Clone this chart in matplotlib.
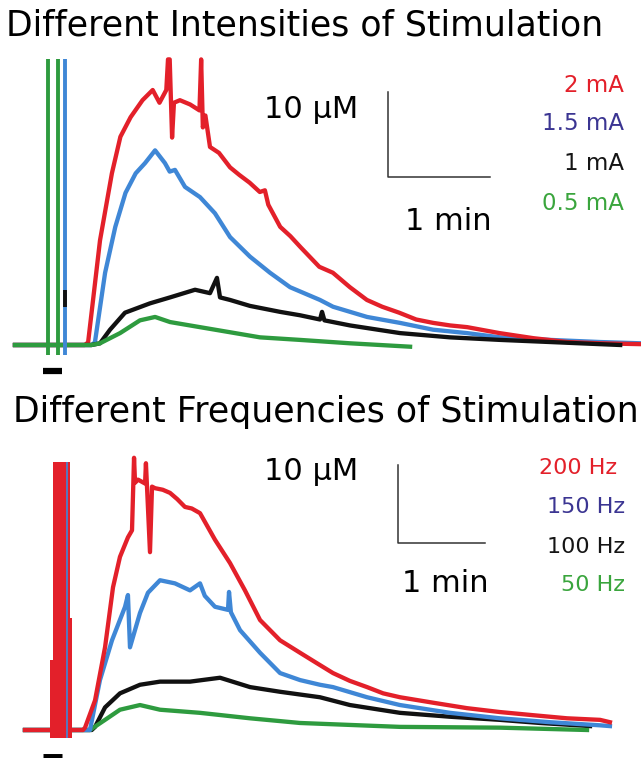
import matplotlib
matplotlib.use("Agg")
import matplotlib.pyplot as plt

# ---------------- data (time in s, concentration in uM) ----------------
# Top panel: different intensities
int_labels = ["2 mA", "1.5 mA", "1 mA", "0.5 mA"]

red_int_t = [0, 20, 41, 43, 50, 57, 62, 68, 75, 81, 85, 89, 90, 91, 92.4, 93.5, 97, 103, 108.5, 109.5,
             110.5, 112, 114.7, 120, 126.5, 132, 138, 144, 147, 149, 156, 162, 168, 179, 187, 197, 207,
             216, 226, 236, 246, 256, 266, 285, 305, 325, 344, 368]
red_int_c = [0, 0, 0, 0.3, 12.3, 20.2, 24.5, 26.8, 28.8, 30.0, 28.5, 30.0, 33.6, 33.6, 24.4, 28.5, 28.8,
             28.3, 27.6, 33.6, 25.6, 27.0, 23.3, 22.6, 20.9, 20.0, 19.1, 18.0, 18.2, 16.5, 13.9, 12.8, 11.5,
             9.2, 8.5, 6.8, 5.3, 4.5, 3.8, 3.0, 2.6, 2.3, 2.1, 1.4, 0.8, 0.35, 0.2, 0.1]

blue_int_t = [0, 20, 45, 47, 53, 59, 65, 71, 76.5, 82.4, 88.2, 91, 94.1, 100, 108.8, 117.6, 126.5, 138.2,
              150, 161.8, 179.4, 187.1, 207.1, 226.5, 245.9, 265.9, 285.3, 314.7, 344.1, 368]
blue_int_c = [0, 0, 0, 0.3, 8.5, 13.9, 17.9, 20.2, 21.4, 22.9, 21.4, 20.4, 20.6, 18.6, 17.4, 15.5, 12.7,
              10.4, 8.5, 6.8, 5.3, 4.5, 3.3, 2.6, 1.8, 1.4, 0.9, 0.6, 0.35, 0.2]

black_int_t = [0, 20, 45, 50, 55.9, 64.7, 79.4, 91.2, 105.9, 114.7, 118.8, 120.6, 126.5, 138.2, 155.9,
               167.6, 179.4, 180.6, 182, 197.1, 226.5, 255.9, 285.3, 314.7, 344.1, 356]
black_int_c = [0, 0, 0, 0.2, 1.8, 3.8, 4.9, 5.6, 6.5, 6.1, 7.9, 5.6, 5.3, 4.6, 3.9, 3.5, 3.0, 3.9, 2.9,
               2.3, 1.4, 0.9, 0.6, 0.35, 0.1, 0]

green_int_t = [0, 20, 45, 50, 61.8, 73.5, 82.4, 91.2, 108.8, 126.5, 144.1, 167.6, 197.1, 232.4]
green_int_c = [0, 0, 0, 0.2, 1.4, 2.9, 3.3, 2.7, 2.1, 1.5, 0.9, 0.6, 0.2, -0.2]

# stimulation artifacts (top): time, colour, low, high
art_int_t = [19.4, 25.3, 29.4]
art_int_col = ["green", "green", "blue"]
art_int_lo = [-1.2, -1.2, -1.2]
art_int_hi = [33.6, 33.6, 33.6]
art_int_black = [4.5, 6.5]
stim_int = [16.5, 27.6]

# Bottom panel: different frequencies
freq_labels = ["200 Hz", "150 Hz", "100 Hz", "50 Hz"]

red_freq_t = [0, 15, 40, 41.4, 48.3, 55.2, 60.7, 65.5, 71.0, 73.8, 75.2, 75.9, 77.9, 82.8, 83.4, 86.2,
              87.6, 89.7, 95, 100, 105, 110.3, 115, 120.7, 131, 141.4, 151.7, 162.1, 175.9, 189.7, 201,
              212.4, 224, 235.9, 247, 258.6, 281.4, 304.8, 327.6, 350.3, 373.8, 396.6, 403.4]
red_freq_c = [0, 0, 0, 0.3, 3.8, 10.6, 18.3, 22.2, 24.7, 25.6, 34.9, 31.7, 32.1, 31.6, 34.2, 22.8, 31.2,
              31.0, 30.8, 30.4, 29.6, 28.6, 28.4, 27.8, 24.4, 21.4, 17.9, 14.1, 11.5, 9.9, 8.6, 7.3, 6.3,
              5.5, 4.7, 4.2, 3.5, 2.8, 2.3, 1.9, 1.5, 1.3, 1.0]

blue_freq_t = [0, 15, 44.8, 51.7, 60, 69, 71, 72.4, 79.3, 84.8, 93.1, 103.4, 113.8, 120.7, 124, 131,
               140, 140.7, 142, 148.3, 162.1, 175.9, 189.7, 203.4, 212.4, 235.9, 258.6, 293.1, 327.6,
               362.1, 396.6, 403.4]
blue_freq_c = [0, 0, 0, 6.4, 11.5, 15.8, 17.3, 10.6, 15.0, 17.6, 19.2, 18.8, 17.9, 18.8, 17.2, 15.8,
               15.4, 17.7, 15.1, 12.8, 9.9, 7.3, 6.4, 5.8, 5.5, 4.2, 3.2, 2.2, 1.5, 1.0, 0.6, 0.5]

black_freq_t = [0, 15, 46, 48.3, 55.2, 65.5, 79.3, 93.1, 113.8, 134.5, 155.2, 175.9, 203.4, 224.1, 258.6,
                293.1, 327.6, 355.2, 389.7]
black_freq_c = [0, 0, 0, 0.4, 2.9, 4.7, 5.8, 6.2, 6.2, 6.7, 5.5, 4.9, 4.2, 3.2, 2.2, 1.7, 1.3, 0.9, 0.5]

green_freq_t = [0, 15, 44.8, 55.2, 65.5, 79.3, 93.1, 120.7, 155.2, 189.7, 258.6, 327.6, 387.6]
green_freq_c = [0, 0, 0, 1.3, 2.6, 3.2, 2.6, 2.2, 1.5, 0.9, 0.4, 0.3, 0]

# stimulation artifact block (bottom): step edges and heights
art_freq_edges = [17.2, 19.3, 31.0, 32.4]
art_freq_hi = [9.0, 34.4, 14.4]
art_freq_lo = -1.0
art_freq_blue_t = 29.0
stim_freq = [12.4, 25.5]

# ---------------- style ----------------
C_RED = "#e3202a"
C_BLUE = "#3f87d6"
C_BLACK = "#111111"
C_GREEN = "#2e9b3f"
LBL_COLS = ["#e3202a", "#3b3592", "#151515", "#3aa53d"]
col_map = {"green": C_GREEN, "blue": C_BLUE}

W, H = 641, 758
FONT = "DejaVu Sans"
fig = plt.figure(figsize=(W / 100, H / 100), dpi=100)


def make_axes(py_top, py_bot, px_t0, px_per_s, py_c0, px_per_uM):
    ax = fig.add_axes([0, 1 - py_bot / H, 1, (py_bot - py_top) / H])
    ax.set_xlim((0 - px_t0) / px_per_s, (W - px_t0) / px_per_s)
    ax.set_ylim((py_c0 - py_bot) / px_per_uM, (py_c0 - py_top) / px_per_uM)
    ax.axis("off")
    return ax


def ftext(x, y, s, size, color="black", ha="left"):
    fig.text(x / W, 1 - y / H, s, fontsize=size, color=color, ha=ha, va="center", family=FONT)


LW = 3.1

# ---- top panel ----
ax1 = make_axes(40, 380, 15, 1.7, 345, 8.5)
ax1.plot(blue_int_t, blue_int_c, color=C_BLUE, lw=LW, zorder=2)
ax1.plot(red_int_t, red_int_c, color=C_RED, lw=LW, zorder=3)
ax1.plot(black_int_t, black_int_c, color=C_BLACK, lw=LW, zorder=4)
ax1.plot(green_int_t, green_int_c, color=C_GREEN, lw=LW, zorder=5)
for t, c, lo, hi in zip(art_int_t, art_int_col, art_int_lo, art_int_hi):
    ax1.vlines(t, lo, hi, color=col_map[c], lw=2.8, zorder=6)
ax1.vlines(art_int_t[2], art_int_black[0], art_int_black[1], color=C_BLACK, lw=2.8, zorder=7)
ax1.hlines(-3.0, stim_int[0], stim_int[1], color="black", lw=4.5)
# scale bar 10 uM / 1 min
ax1.plot([219.4, 219.4, 279.4], [29.8, 19.8, 19.8], color="#333333", lw=1.1)

ftext(6, 26, "Different Intensities of Stimulation", 25)
ftext(264, 109, "10 μM", 22)
ftext(405, 221, "1 min", 22)
for i, (lab, y) in enumerate(zip(int_labels, [86, 124, 164, 203])):
    ftext(624, y, lab, 16.5, LBL_COLS[i], ha="right")

# ---- bottom panel ----
ax2 = make_axes(430, 758, 25, 1.45, 730, 7.8)
ax2.plot(black_freq_t, black_freq_c, color=C_BLACK, lw=LW, zorder=2)
ax2.plot(green_freq_t, green_freq_c, color=C_GREEN, lw=LW, zorder=3)
ax2.plot(blue_freq_t, blue_freq_c, color=C_BLUE, lw=LW, zorder=4)
ax2.plot(red_freq_t, red_freq_c, color=C_RED, lw=LW, zorder=5)
ax2.stairs(art_freq_hi, art_freq_edges, baseline=art_freq_lo, fill=True, color=C_RED, zorder=6)
ax2.vlines(art_freq_blue_t, art_freq_lo, art_freq_hi[1], color=C_BLUE, lw=1.2, zorder=7)
ax2.hlines(-3.4, stim_freq[0], stim_freq[1], color="black", lw=5, zorder=8)
ax2.plot([257.2, 257.2, 317.2], [34.0, 24.0, 24.0], color="#333333", lw=1.1)

ftext(13, 412, "Different Frequencies of Stimulation", 25)
ftext(264, 471, "10 μM", 22)
ftext(402, 583, "1 min", 22)
for i, (lab, y) in enumerate(zip(freq_labels, [468, 507, 547, 585])):
    ftext(625 if i else 617, y, lab, 16, LBL_COLS[i], ha="right")

fig.savefig("out.png", dpi=100)
